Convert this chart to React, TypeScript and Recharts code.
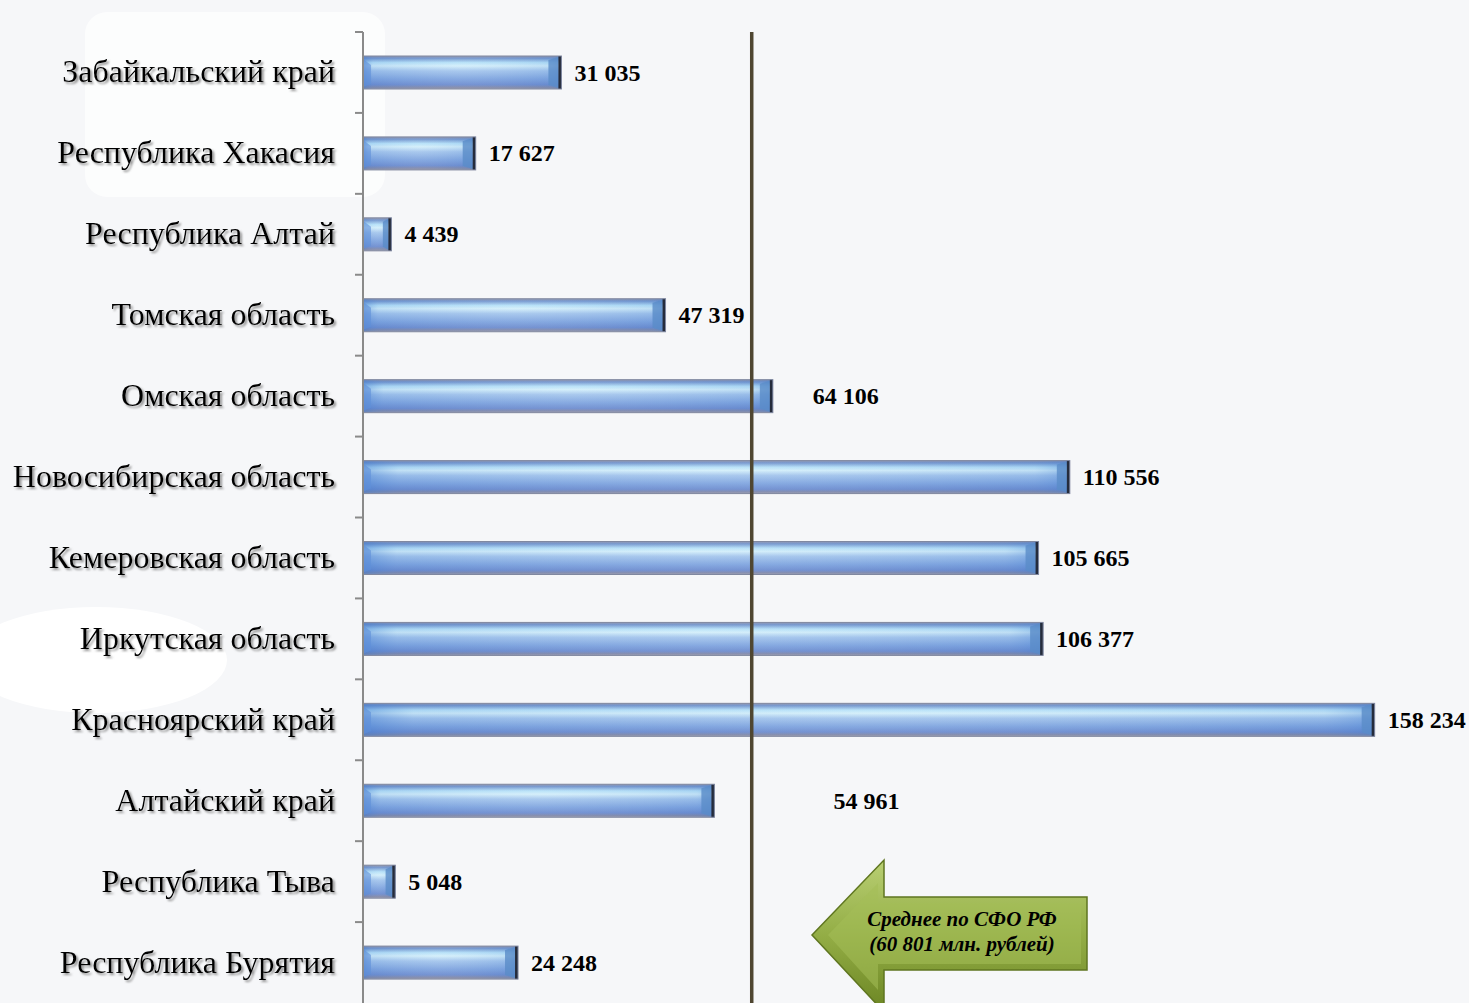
import React from 'react';
import {
  BarChart,
  Bar,
  XAxis,
  YAxis,
  ReferenceLine,
  LabelList,
} from 'recharts';

// ──────────────────────────────────────────────────────────
// Data
// ──────────────────────────────────────────────────────────

const REGIONS = [
  'Забайкальский край',
  'Республика Хакасия',
  'Республика Алтай',
  'Томская область',
  'Омская область',
  'Новосибирская область',
  'Кемеровская область',
  'Иркутская область',
  'Красноярский край',
  'Алтайский край',
  'Республика Тыва',
  'Республика Бурятия',
];

const VALUES = [
  31035, 17627, 4439, 47319, 64106, 110556, 105665, 106377, 158234, 54961,
  5048, 24248,
];

const AVERAGE = 60801;
const AVERAGE_TEXT = ['Среднее по СФО РФ', '(60 801 млн. рублей)'];

const data = REGIONS.map((name, i) => ({ name, value: VALUES[i] }));

// ──────────────────────────────────────────────────────────
// Layout / style
// ──────────────────────────────────────────────────────────

const W = 1469;
const H = 1003;
const MARGIN = { top: 32, right: 53, bottom: 0, left: 0 };
const AXIS_W = 363;
const BAND = (H - MARGIN.top - MARGIN.bottom) / REGIONS.length;
const SERIF = '"Liberation Serif", "Times New Roman", serif';

// labels pushed away from the average line
const LABEL_NUDGE: Record<string, number> = {
  'Омская область': 27,
  'Алтайский край': 106,
};

if (typeof document !== 'undefined') {
  document.body.style.margin = '0';
}

const fmt = (v: number) => String(v).replace(/\B(?=(\d{3})+(?!\d))/g, ' ');

function RegionTick(props: any) {
  const { y, payload } = props;
  const ax = AXIS_W;
  return (
    <g>
      <line x1={ax - 8} x2={ax} y1={y - BAND / 2} y2={y - BAND / 2} stroke="#8a8a8a" strokeWidth={2} />
      <text
        x={ax - 28}
        y={y + 10}
        textAnchor="end"
        fontFamily={SERIF}
        fontSize={32}
        fill="#000"
        filter="url(#txtShadow)"
      >
        {payload.value}
      </text>
    </g>
  );
}

function GlassBar(props: any) {
  const { x, y, width, height } = props;
  if (!width || width <= 0) return null;
  const cap = Math.min(13, width * 0.3);
  return (
    <g>
      <rect x={x} y={y} width={width} height={height} fill="url(#barV)" />
      <rect x={x} y={y} width={width} height={height} fill="url(#barH)" />
      <polygon
        points={`${x},${y + 3} ${x + 8},${y + 9} ${x + 8},${y + height - 5} ${x},${y + height - 2}`}
        fill="#5f8fd8"
        opacity={0.6}
      />
      <polygon
        points={`${x + width - cap},${y + 4} ${x + width - 3},${y + 1} ${x + width - 3},${y + height - 1} ${x + width - cap},${y + height - 4}`}
        fill="#5a8cc8"
        opacity={0.8}
      />
      <rect x={x + width - 3} y={y} width={3} height={height} fill="#252c3c" />
      <rect x={x} y={y} width={width} height={height} fill="none" stroke="#8088a0" strokeWidth={1} />
    </g>
  );
}

function ValueLabel(props: any) {
  const { x, y, width, height, value, index } = props;
  const nudge = LABEL_NUDGE[REGIONS[index]] || 0;
  return (
    <text
      x={x + width + 13 + nudge}
      y={y + height / 2 + 8}
      fontFamily={SERIF}
      fontWeight="bold"
      fontSize={24}
      fill="#000"
    >
      {fmt(value)}
    </text>
  );
}

export default function App() {
  return (
    <div style={{ position: 'relative', width: W, height: H, background: '#f6f7f9', overflow: 'hidden' }}>
      {/* faint backdrop shapes */}
      <div
        style={{
          position: 'absolute',
          left: 85,
          top: 12,
          width: 300,
          height: 185,
          borderRadius: 22,
          background: 'rgba(255,255,255,0.7)',
        }}
      />
      <div
        style={{
          position: 'absolute',
          left: -35,
          top: 607,
          width: 262,
          height: 106,
          borderRadius: '50%',
          background: '#ffffff',
        }}
      />
      <div style={{ position: 'absolute', left: 0, top: 0 }}>
        <BarChart width={W} height={H} data={data} layout="vertical" margin={MARGIN} barSize={33}>
          <defs>
            <linearGradient id="barV" x1="0" y1="0" x2="0" y2="1">
              <stop offset="0" stopColor="#8a90aa" />
              <stop offset="0.07" stopColor="#6f92cc" />
              <stop offset="0.2" stopColor="#b4e0f8" />
              <stop offset="0.3" stopColor="#d2eefa" />
              <stop offset="0.45" stopColor="#a2c4ec" />
              <stop offset="0.7" stopColor="#7ca2de" />
              <stop offset="0.87" stopColor="#6a8ace" />
              <stop offset="0.95" stopColor="#7e86a8" />
              <stop offset="1" stopColor="#9a9cae" />
            </linearGradient>
            <linearGradient id="barH" x1="0" y1="0" x2="1" y2="0">
              <stop offset="0" stopColor="#3f7bd0" stopOpacity={0.5} />
              <stop offset="0.05" stopColor="#5b8fd6" stopOpacity={0.15} />
              <stop offset="0.5" stopColor="#ffffff" stopOpacity={0.08} />
              <stop offset="0.95" stopColor="#5b8fd6" stopOpacity={0.15} />
              <stop offset="1" stopColor="#3f7bd0" stopOpacity={0.4} />
            </linearGradient>
            <filter id="txtShadow" x="-5%" y="-20%" width="110%" height="150%">
              <feDropShadow dx="2" dy="2" stdDeviation="1.2" floodColor="#777" floodOpacity="0.8" />
            </filter>
          </defs>
          <XAxis type="number" domain={[0, 164700]} hide />
          <YAxis
            type="category"
            dataKey="name"
            width={AXIS_W}
            axisLine={{ stroke: '#8a8a8a', strokeWidth: 2 }}
            tickLine={false}
            tick={<RegionTick />}
            interval={0}
          />
          <Bar dataKey="value" shape={<GlassBar />} isAnimationActive={false}>
            <LabelList dataKey="value" content={<ValueLabel />} />
          </Bar>
          <ReferenceLine x={AVERAGE} stroke="#4f4631" strokeWidth={3.5} />
        </BarChart>
      </div>
      {/* average annotation arrow */}
      <svg width={W} height={H} style={{ position: 'absolute', left: 0, top: 0, pointerEvents: 'none' }}>
        <defs>
          <linearGradient id="arrowG" x1="0" y1="0" x2="0" y2="1">
            <stop offset="0" stopColor="#b9cf73" />
            <stop offset="0.5" stopColor="#93ad45" />
            <stop offset="1" stopColor="#6b8523" />
          </linearGradient>
        </defs>
        <polygon
          points="812,935 884,860 884,897 1087,897 1087,970 884,970 884,1012"
          fill="url(#arrowG)"
          stroke="#5f7620"
          strokeWidth={1.5}
        />
        <polygon
          points="828,935 878,883 878,903 1081,903 1081,964 878,964 878,990"
          fill="#a4bd58"
          opacity={0.55}
        />
        {AVERAGE_TEXT.map((t, i) => (
          <text
            key={i}
            x={962}
            y={926 + i * 25}
            textAnchor="middle"
            fontFamily={SERIF}
            fontStyle="italic"
            fontWeight="bold"
            fontSize={21}
            fill="#000"
          >
            {t}
          </text>
        ))}
      </svg>
    </div>
  );
}
